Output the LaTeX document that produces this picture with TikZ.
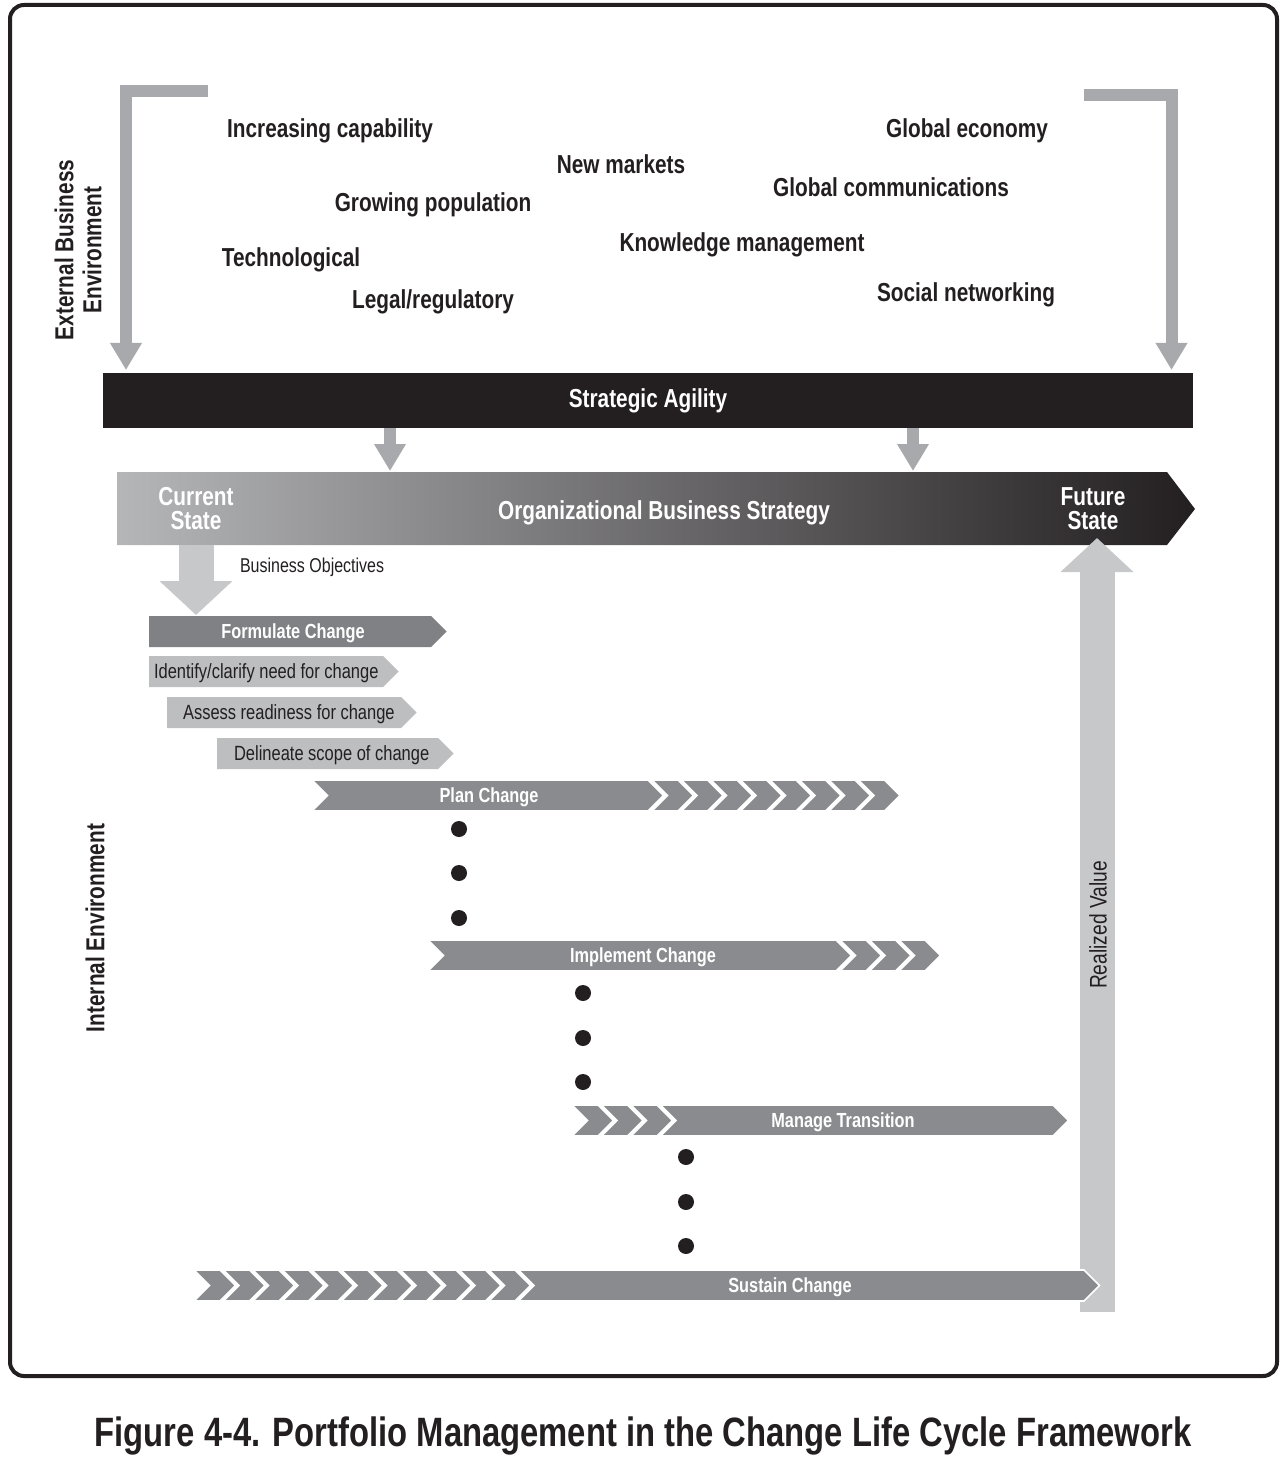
\documentclass[tikz,border=0pt]{standalone}
\usepackage{fontspec}
\setmainfont{Liberation Sans}[FakeStretch=0.8]
\usetikzlibrary{arrows.meta}
\definecolor{ink}{HTML}{231F20}
\definecolor{railgray}{HTML}{A7A9AC}
\definecolor{palegray}{HTML}{C7C8CA}
\definecolor{stepgray}{HTML}{BCBEC0}
\definecolor{phasegray}{HTML}{8A8B8E}
\definecolor{formgray}{HTML}{808184}
\definecolor{stratleft}{HTML}{B5B6B8}
\definecolor{stratmid}{HTML}{76777A}

\begin{document}
\begin{tikzpicture}[x=0.5pt,y=-0.5pt,
    force/.style={font=\bfseries\fontsize{13}{14}\selectfont,text=ink},
    phase/.style={font=\bfseries\fontsize{10.2}{12}\selectfont,text=white},
    substep/.style={font=\fontsize{10.3}{12}\selectfont,text=ink,anchor=west},
    phasebar/.style={fill=phasegray,draw=white,line width=0.8pt},
    rail/.style={railgray,line width=6pt,-{Triangle[width=15pt,length=13.5pt]}},
    bigarrow/.style={palegray,line width=17.5pt,-{Triangle[width=35.5pt,length=17pt]}}]
    \useasboundingbox (0,0) rectangle (1282,1460);
    \draw[ink,line width=2pt,rounded corners=7pt] (10,5) rectangle (1277,1376);

    % external forces
    \node[force] (capability) at (330,131) {Increasing capability};
    \node[force] (markets) at (621,164) {New markets};
    \node[force] (economy) at (967,131) {Global economy};
    \node[force] (population) at (433,205) {Growing population};
    \node[force] (communications) at (891,187) {Global communications};
    \node[force] (technological) at (291,260) {Technological};
    \node[force] (knowledge) at (742,245) {Knowledge management};
    \node[force] (legal) at (433,302) {Legal/regulatory};
    \node[force] (social) at (966,295) {Social networking};
    \node[force,rotate=90,align=center] (extenv) at (78,250) {External Business\\Environment};
    \node[force,rotate=90] (intenv) at (95,928) {Internal Environment};

    \coordinate (extL) at (208,91.5);
    \coordinate (envL) at (126,370);
    \coordinate (extR) at (1084,95.5);
    \coordinate (envR) at (1171.5,370);
    \draw[rail] (extL) -| (envL);
    \draw[rail] (extR) -| (envR);

    \node[fill=ink,text=white,minimum width=545pt,minimum height=27.5pt,inner sep=0pt,
          font=\bfseries\fontsize{13}{14}\selectfont] (agility) at (648,400.5) {Strategic Agility};
    \coordinate (dropL) at (390,471);
    \coordinate (dropR) at (913,471);
    \draw[rail] (agility.south -| dropL) -- (dropL);
    \draw[rail] (agility.south -| dropR) -- (dropR);

    % business strategy
    \shade[left color=stratleft,middle color=stratmid,right color=ink]
        (117,472) -- (1167,472) -- (1195,509) -- (1167,545) -- (117,545) -- cycle;
    \node[font=\bfseries\fontsize{13}{12}\selectfont,text=white,align=center] (current) at (196,509) {Current\\State};
    \node[font=\bfseries\fontsize{13}{14}\selectfont,text=white] (strategy) at (664,513) {Organizational Business Strategy};
    \node[font=\bfseries\fontsize{13}{12}\selectfont,text=white,align=center] (future) at (1093,509) {Future\\State};

    \coordinate (objtop) at (196,545);
    \coordinate (objtip) at (196,615);
    \draw[bigarrow] (objtop) -- (objtip);
    \node[substep,font=\fontsize{10}{12}\selectfont] (objectives) at (233,567) {Business Objectives};

    % formulate
    \path[fill=formgray] (149,616) -- (431,616) -- (446.5,631.5) -- (431,647) -- (149,647) -- cycle;
    \path[fill=stepgray] (149,656) -- (383,656) -- (398.5,671.5) -- (383,687) -- (149,687) -- cycle;
    \path[fill=stepgray] (167,697) -- (401,697) -- (416.5,712.5) -- (401,728) -- (167,728) -- cycle;
    \path[fill=stepgray] (217,738) -- (438,738) -- (453.5,753.5) -- (438,769) -- (217,769) -- cycle;
    \node[phase] (formulate) at (293,633) {Formulate Change};
    \node[substep] (identify) at (147,673) {Identify/clarify need for change};
    \node[substep] (assess) at (176,714) {Assess readiness for change};
    \node[substep] (delineate) at (227,755) {Delineate scope of change};

    % plan
    \path[phasebar] (312,780) -- (648,780) -- (663.5,795.5) -- (648,811) -- (312,811) -- (327.5,795.5) -- cycle;
    \foreach \i in {0,...,7}
        \path[phasebar] ({652+29.5*\i},780) -- ++(26,0) -- ++(15.5,15.5) -- ++(-15.5,15.5) -- ++(-26,0) -- ++(15.5,-15.5) -- cycle;
    \node[phase] (plan) at (489,797.5) {Plan Change};
    \foreach \y in {829,873,918}
        \fill[ink] (459,\y) circle[radius=4pt];

    % implement
    \path[phasebar] (428,940) -- (836,940) -- (851.5,955.5) -- (836,971) -- (428,971) -- (443.5,955.5) -- cycle;
    \foreach \i in {0,...,2}
        \path[phasebar] ({840+29.5*\i},940) -- ++(26,0) -- ++(15.5,15.5) -- ++(-15.5,15.5) -- ++(-26,0) -- ++(15.5,-15.5) -- cycle;
    \node[phase] (implement) at (643,957.5) {Implement Change};
    \foreach \y in {993,1038,1082}
        \fill[ink] (583,\y) circle[radius=4pt];

    % manage
    \foreach \i in {0,...,2}
        \path[phasebar] ({572+29.5*\i},1105) -- ++(26,0) -- ++(15.5,15.5) -- ++(-15.5,15.5) -- ++(-26,0) -- ++(15.5,-15.5) -- cycle;
    \path[phasebar] (660.5,1105) -- (1053,1105) -- (1068.5,1120.5) -- (1053,1136) -- (660.5,1136) -- (676,1120.5) -- cycle;
    \node[phase] (manage) at (843,1122.5) {Manage Transition};
    \foreach \y in {1157,1202,1246}
        \fill[ink] (686,\y) circle[radius=4pt];

    % realized value
    \coordinate (valuefoot) at (1097,1312);
    \coordinate (valuetip) at (1097,538);
    \draw[bigarrow] (valuefoot) -- (valuetip);
    \node[font=\fontsize{12}{14}\selectfont,text=ink,rotate=90] (value) at (1098,925) {Realized Value};

    % sustain
    \foreach \i in {0,...,10}
        \path[phasebar] ({194+29.5*\i},1270) -- ++(26,0) -- ++(15.5,15.5) -- ++(-15.5,15.5) -- ++(-26,0) -- ++(15.5,-15.5) -- cycle;
    \path[phasebar] (518.5,1270) -- (1084,1270) -- (1099.5,1285.5) -- (1084,1301) -- (518.5,1301) -- (534,1285.5) -- cycle;
    \node[phase] (sustain) at (790,1287.5) {Sustain Change};

    \node[font=\bfseries\fontsize{20.5}{24}\selectfont,text=ink] (caption) at (643,1436)
        {Figure 4-4. Portfolio Management in the Change Life Cycle Framework};
\end{tikzpicture}
\end{document}
